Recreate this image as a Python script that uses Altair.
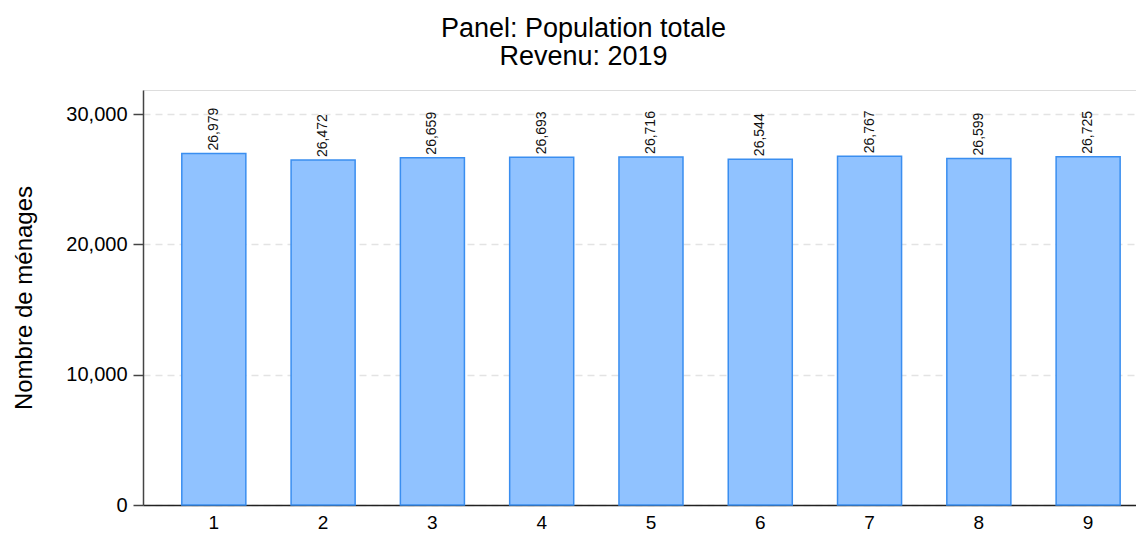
import altair as alt
import pandas as pd

categories = ["1", "2", "3", "4", "5", "6", "7", "8", "9"]
values = [26979, 26472, 26659, 26693, 26716, 26544, 26767, 26599, 26725]
y_ticks = [0, 10000, 20000, 30000]

df = pd.DataFrame({"cat": categories, "val": values})

FONT = "Liberation Sans"

x_enc = alt.X(
    "cat:N",
    sort=categories,
    title=None,
    scale=alt.Scale(paddingInner=0.414, paddingOuter=0.25, align=0.71),
    axis=alt.Axis(
        labelAngle=0,
        labelFont=FONT,
        labelFontSize=19,
        labelColor="#000000",
        labelPadding=8,
        ticks=False,
        domainColor="#222222",
        domainWidth=1.5,
        grid=False,
    ),
)

y_enc = alt.Y(
    "val:Q",
    title="Nombre de ménages",
    scale=alt.Scale(domain=[0, 31850], nice=False),
    axis=alt.Axis(
        values=y_ticks,
        format=",d",
        labelFont=FONT,
        labelFontSize=20,
        labelColor="#000000",
        labelPadding=6,
        tickSize=10,
        tickColor="#444444",
        tickWidth=1.5,
        domainColor="#444444",
        domainWidth=1.5,
        grid=True,
        gridColor="#e3e3e3",
        gridDash=[7, 5],
        gridWidth=1.5,
        titleFont=FONT,
        titleFontSize=24,
        titleFontWeight="normal",
        titleColor="#000000",
        titlePadding=29,
    ),
)

bars = alt.Chart(df).mark_bar(
    fill="#90c2ff", stroke="#3a8ef0", strokeWidth=1.5
).encode(x=x_enc, y=y_enc)

labels = alt.Chart(df).mark_text(
    angle=270, align="left", baseline="middle", dx=3,
    font=FONT, fontSize=14, color="#111111"
).encode(
    x=alt.X("cat:N", sort=categories),
    y=alt.Y("val:Q"),
    text=alt.Text("val:Q", format=",d"),
)

chart = (
    alt.layer(bars, labels)
    .properties(
        width=993,
        height=415,
        title=alt.TitleParams(
            text=["Panel: Population totale", "Revenu: 2019"],
            font=FONT,
            fontSize=27,
            fontWeight="normal",
            color="#000000",
            anchor="middle",
            dx=-56,
            lineHeight=28,
            offset=19,
        ),
        padding={"left": 135, "top": 82, "right": 0, "bottom": 30},
        autosize=alt.AutoSizeParams(type="none"),
    )
    .configure_view(strokeWidth=0, stroke="transparent")
    .configure(background="white")
)

chart.save("out.html", embed_options={"renderer": "svg", "actions": False})
